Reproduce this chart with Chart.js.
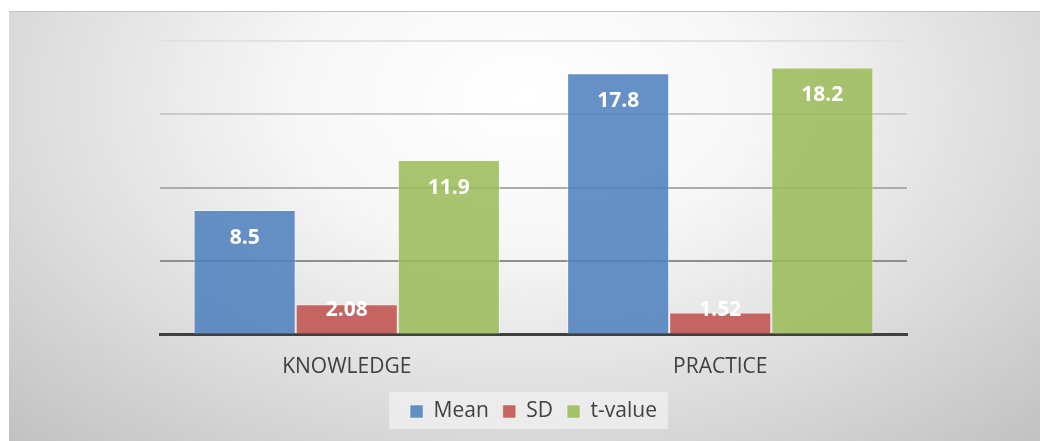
<!DOCTYPE html>
<html>
<head>
<meta charset="utf-8">
<script src="https://cdn.jsdelivr.net/npm/chart.js@4/dist/chart.umd.min.js"></script>
<style>
    html, body { margin: 0; padding: 0; background: #fff; }
    body { width: 1040px; height: 441px; position: relative; overflow: hidden; }
    /* tło wykresu: radialny gradient jak w Excelu */
    .bg {
        position: absolute; left: 9px; top: 11px; right: 0; bottom: 0;
        border-top: 1px solid #c4c4c4;
        background: radial-gradient(ellipse 72% 110% at 50% 20%, #ffffff 0%, #f7f7f7 30%, #e0e0e0 62%, #c2c2c2 100%);
    }
    #chart { position: absolute; left: 0; top: 0; }
</style>
</head>
<body>
<div class="bg"></div>
<canvas id="chart" width="1040" height="441"></canvas>
<script>
// --- DANE ---
const categories = ['KNOWLEDGE', 'PRACTICE'];
const meanValues = [8.5, 17.8];
const sdValues = [2.08, 1.52];
const tValues = [11.9, 18.2];
const seriesNames = ['Mean', 'SD', 't-value'];

const FONT = "'Open Sans', 'DejaVu Sans', sans-serif";

// Kolory linii siatki - ciemniejsze im niżej
function gridColor(value) {
    if (value >= 20) return '#e2e2e2';
    if (value >= 15) return '#c9c9c9';
    if (value >= 10) return '#ababab';
    if (value >= 5) return '#8e8e8e';
    return 'rgba(0,0,0,0)';
}

// Etykiety wartości wewnątrz słupków
const barLabels = {
    id: 'barLabels',
    afterDatasetsDraw(chart) {
        const ctx = chart.ctx;
        ctx.save();
        ctx.font = "bold 21px " + FONT;
        ctx.fillStyle = '#ffffff';
        ctx.textAlign = 'center';
        ctx.textBaseline = 'middle';
        chart.data.datasets.forEach((ds, i) => {
            chart.getDatasetMeta(i).data.forEach((bar, j) => {
                const y = Math.min(bar.y + 28, bar.base - 24);
                ctx.fillText(String(ds.data[j]), bar.x, y);
            });
        });
        ctx.restore();
    }
};

// Jaśniejsze tło pod legendą
const legendBox = {
    id: 'legendBox',
    beforeDraw(chart) {
        const lg = chart.legend;
        if (!lg || !lg.legendHitBoxes || !lg.legendHitBoxes.length) return;
        const boxes = lg.legendHitBoxes;
        const left = boxes[0].left - 21;
        const last = boxes[boxes.length - 1];
        const right = last.left + last.width + 11;
        const ctx = chart.ctx;
        ctx.save();
        ctx.fillStyle = 'rgba(240,240,240,0.75)';
        ctx.fillRect(left, lg.top + 5, right - left, lg.bottom - lg.top - 8);
        ctx.restore();
    }
};

new Chart(document.getElementById('chart'), {
    type: 'bar',
    data: {
        labels: categories,
        datasets: [
            {
                label: seriesNames[0],
                data: meanValues,
                backgroundColor: 'rgba(79,129,189,0.87)',
                borderColor: 'rgba(255,255,255,0.45)',
                borderWidth: 1,
                categoryPercentage: 0.82,
                barPercentage: 1.0
            },
            {
                label: seriesNames[1],
                data: sdValues,
                backgroundColor: 'rgba(192,80,77,0.87)',
                borderColor: 'rgba(255,255,255,0.45)',
                borderWidth: 1,
                categoryPercentage: 0.82,
                barPercentage: 1.0
            },
            {
                label: seriesNames[2],
                data: tValues,
                backgroundColor: 'rgba(155,187,89,0.87)',
                borderColor: 'rgba(255,255,255,0.45)',
                borderWidth: 1,
                categoryPercentage: 0.82,
                barPercentage: 1.0
            }
        ]
    },
    options: {
        responsive: false,
        animation: false,
        layout: {
            padding: { left: 160, right: 133, top: 41, bottom: 9 }
        },
        plugins: {
            tooltip: { enabled: false },
            legend: {
                position: 'bottom',
                labels: {
                    boxWidth: 13,
                    boxHeight: 13,
                    padding: 14,
                    color: '#404040',
                    font: { family: FONT, size: 21 }
                }
            }
        },
        scales: {
            y: {
                min: 0,
                max: 20,
                ticks: { display: false, stepSize: 5 },
                border: { display: false },
                grid: {
                    drawTicks: false,
                    lineWidth: 2,
                    color: (c) => gridColor(c.tick ? c.tick.value : 0)
                }
            },
            x: {
                grid: { display: false, drawTicks: false },
                border: { display: true, color: '#404040', width: 3 },
                ticks: {
                    padding: 20,
                    color: '#404040',
                    font: { family: FONT, size: 21 }
                },
                afterFit(scale) { scale.height -= 13; }
            }
        }
    },
    plugins: [legendBox, barLabels]
});
</script>
</body>
</html>
